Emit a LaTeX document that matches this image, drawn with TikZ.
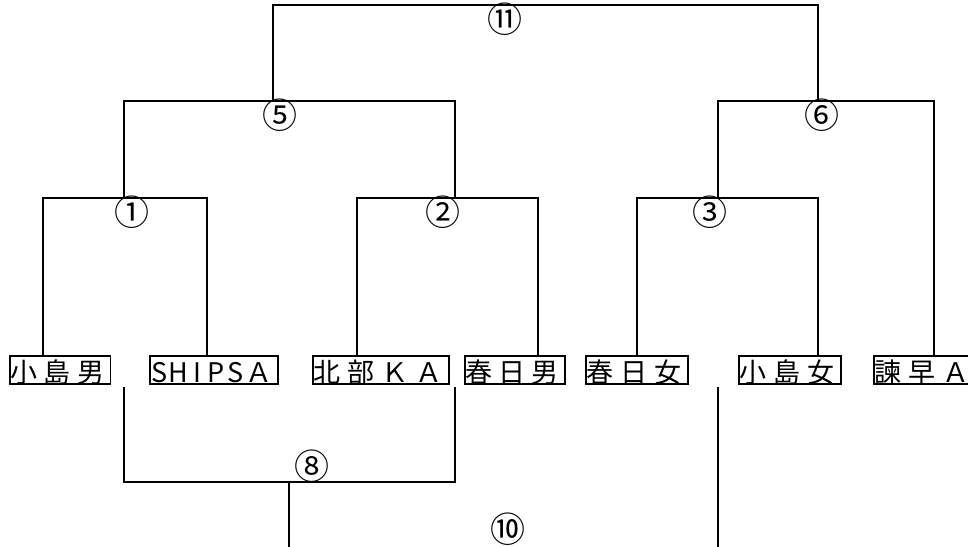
\documentclass[tikz,border=0pt]{standalone}
\usepackage{fontspec}
\setmainfont{Noto Sans CJK JP}
\newcommand\zc[2][33.5pt]{\makebox[#1][l]{\hspace{0.5pt}#2}}
\newcommand\zh[1]{\makebox[19pt][c]{#1}}
\begin{document}
\begin{tikzpicture}[x=1pt,y=-1pt,line width=1.6pt,
  team/.style={draw,line width=1.6pt,anchor=north west,inner sep=0pt,
    minimum height=28pt,text height=26.5pt,text depth=1.5pt,fill=white,
    font=\fontsize{27}{27}\selectfont},
  num/.style={inner sep=0pt,font=\fontsize{35}{35}\selectfont}]
\useasboundingbox (0,0) rectangle (968,546);
% teams
\node[team] (t1) at (9,355)   {\zc{小}\zc{島}\zc{男}};
\node[team] (t2) at (149,355) {\zh{S}\zh{H}\zh{I}\zh{P}\zh{S}\zc[33pt]{Ａ}};
\node[team] (t3) at (312,355) {\zc[34pt]{北}\zc[34pt]{部}\zc[34pt]{Ｋ}\zc[34pt]{Ａ}};
\node[team] (t4) at (464,355) {\zc[33.3pt]{春}\zc[33.3pt]{日}\zc[33.3pt]{男}};
\node[team] (t5) at (585,355) {\zc[34pt]{春}\zc[34pt]{日}\zc[34pt]{女}};
\node[team] (t6) at (738,355) {\zc[34pt]{小}\zc[34pt]{島}\zc[34pt]{女}};
\node[team] (t7) at (873,355) {\zc[34pt]{諫}\zc[34pt]{早}\zc[34pt]{Ａ}};
% bracket corners
\coordinate (c1l) at (43,198);  \coordinate (c1r) at (207,198); \coordinate (c1p) at (124,198);
\coordinate (c2l) at (357,198); \coordinate (c2r) at (538,198); \coordinate (c2p) at (455,198);
\coordinate (c3l) at (637,198); \coordinate (c3r) at (818,198); \coordinate (c3p) at (718,198);
\coordinate (c5l) at (124,101); \coordinate (c5r) at (455,101); \coordinate (c5p) at (273,101);
\coordinate (c6l) at (718,101); \coordinate (c6r) at (934,101); \coordinate (c6p) at (818,101);
\coordinate (c11l) at (273,5);  \coordinate (c11r) at (818,5);
\coordinate (b8l) at (124,387); \coordinate (b8r) at (455,387);
\coordinate (c8l) at (124,482); \coordinate (c8r) at (455,482); \coordinate (c8p) at (289,482);
\coordinate (e8) at (289,548);
\coordinate (b10) at (718,387); \coordinate (e10) at (718,548);
% round 1
\draw (t1.north -| c1l) -- (c1l) -- (c1r) -- (t2.north -| c1r);
\draw (t3.north -| c2l) -- (c2l) -- (c2r) -- (t4.north -| c2r);
\draw (t5.north -| c3l) -- (c3l) -- (c3r) -- (t6.north -| c3r);
% round 2
\draw (c1p) -- (c5l) -- (c5r) -- (c2p);
\draw (c3p) -- (c6l) -- (c6r) -- (t7.north -| c6r);
% final
\draw (c5p) -- (c11l) -- (c11r) -- (c6p);
% lower brackets
\draw (b8l) -- (c8l) -- (c8r) -- (b8r);
\draw (c8p) -- (e8);
\draw (b10) -- (e10);
% labels
\node[num] (n11) at (505,19)  {⑪};
\node[num] (n5)  at (280,115) {⑤};
\node[num] (n6)  at (822,115) {⑥};
\node[num] (n1)  at (132,212) {①};
\node[num] (n2)  at (443,212) {②};
\node[num] (n3)  at (710,212) {③};
\node[num] (n8)  at (312,466) {⑧};
\node[num] (n10) at (508,529) {⑩};
\end{tikzpicture}
\end{document}
